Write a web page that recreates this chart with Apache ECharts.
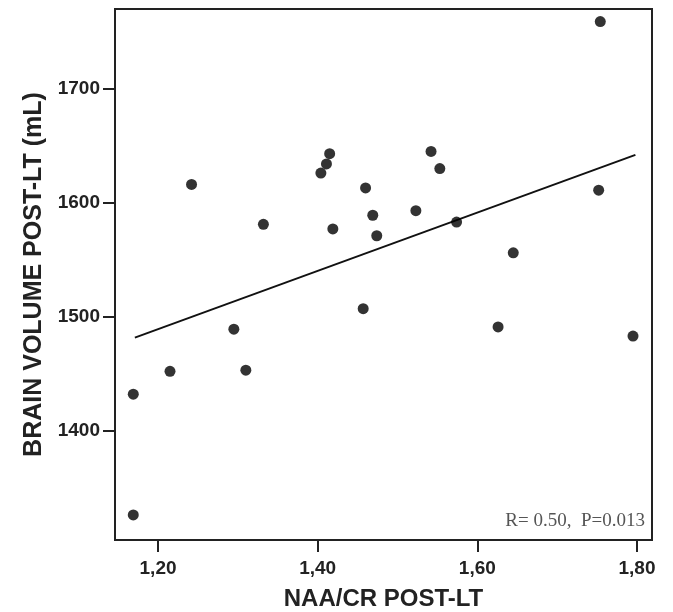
<!DOCTYPE html>
<html>
<head>
<meta charset="utf-8">
<script src="https://cdn.jsdelivr.net/npm/echarts@6/dist/echarts.min.js"></script>
<style>html,body{margin:0;padding:0;background:#fff}#c{width:673px;height:612px}</style>
</head>
<body>
<div id="c"></div>
<script>
var naaCr = [1.754,1.169,1.242,1.332,1.404,1.411,1.415,1.419,1.460,1.469,1.474,1.457,1.295,1.215,1.310,1.169,1.542,1.553,1.523,1.574,1.645,1.752,1.626,1.795];
var brainVol = [1759,1326,1616,1581,1626,1634,1643,1577,1613,1589,1571,1507,1489,1452,1453,1432,1645,1630,1593,1583,1556,1611,1491,1483];
var fitX = [1.171,1.798];
var fitY = [1481.6,1642];
var xTicks = [1.2,1.4,1.6,1.8];
var yTicks = [1400,1500,1600,1700];
var statText = 'R= 0.50,  P=0.013';

var pts = naaCr.map(function(v,i){return [v, brainVol[i]];});
var fit = fitX.map(function(v,i){return [v, fitY[i]];});

var chart = echarts.init(document.getElementById('c'));
chart.setOption({
  animation:false,
  backgroundColor:'#fff',
  grid:{left:115,right:21,top:9,bottom:72,outerBoundsMode:'none',containLabel:false,show:true,borderColor:'#222',borderWidth:2,backgroundColor:'transparent'},
  xAxis:{type:'value',min:1.1461,max:1.8188,
    name:'NAA/CR POST-LT',nameLocation:'middle',nameGap:47,
    nameTextStyle:{fontFamily:'Liberation Sans',fontWeight:'bold',fontSize:24,color:'#222'},
    axisLine:{show:true,lineStyle:{color:'#222',width:2}},
    axisTick:{show:true,length:12,lineStyle:{color:'#222',width:2},customValues:xTicks},
    axisLabel:{color:'#222',fontFamily:'Liberation Sans',fontWeight:'bold',fontSize:19,margin:19,customValues:xTicks,
      formatter:function(v){return v.toFixed(2).replace('.',',');}},
    splitLine:{show:false}},
  yAxis:{type:'value',min:1304,max:1770,
    name:'BRAIN VOLUME POST-LT (mL)',nameLocation:'middle',nameGap:68,nameRotate:90,
    nameTextStyle:{fontFamily:'Liberation Sans',fontWeight:'bold',fontSize:25,color:'#222'},
    axisLine:{show:true,lineStyle:{color:'#222',width:2}},
    axisTick:{show:true,length:12,lineStyle:{color:'#222',width:2},customValues:yTicks},
    axisLabel:{color:'#222',fontFamily:'Liberation Sans',fontWeight:'bold',fontSize:19,margin:15,customValues:yTicks,
      formatter:function(v){return String(v);}},
    splitLine:{show:false}},
  series:[
    {type:'line',data:fit,symbol:'none',lineStyle:{color:'#111',width:2},z:2},
    {type:'scatter',data:pts,symbol:'circle',symbolSize:11,itemStyle:{color:'#000'},z:3}
  ],
  graphic:[{type:'text',right:28,top:512,style:{text:statText,font:'19px "Liberation Serif"',fill:'#555'}}]
});
</script>
</body>
</html>
